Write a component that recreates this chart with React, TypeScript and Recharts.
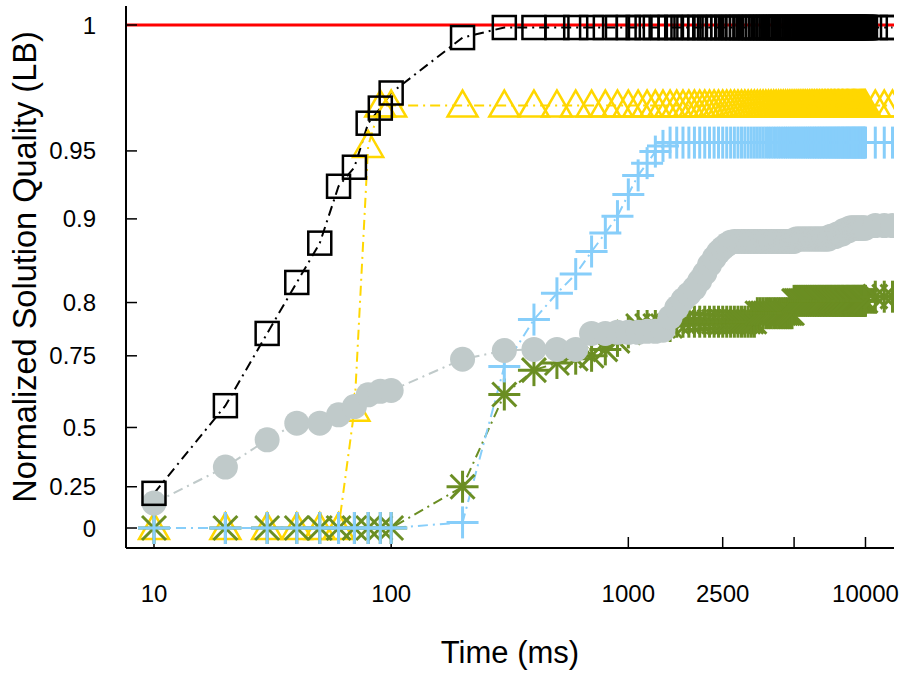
import React from 'react';
import { LineChart, Line, XAxis, YAxis, ReferenceLine, Label } from 'recharts';

// Time grid (ms) shared by all series
const times = [
  10, 20, 30, 40, 50, 60, 70, 80, 90, 100,
  200, 300, 400, 500, 600, 700, 800, 900, 1000,
  1100, 1200, 1300, 1400, 1500, 1600, 1700, 1800, 1900, 2000,
  2100, 2200, 2300, 2400, 2500, 2600, 2700, 2800, 2900, 3000,
  3100, 3200, 3300, 3400, 3500, 3600, 3700, 3800, 3900, 4000,
  4100, 4200, 4300, 4400, 4500, 4600, 4700, 4800, 4900, 5000,
  5100, 5200, 5300, 5400, 5500, 5600, 5700, 5800, 5900, 6000,
  6100, 6200, 6300, 6400, 6500, 6600, 6700, 6800, 6900, 7000,
  7100, 7200, 7300, 7400, 7500, 7600, 7700, 7800, 7900, 8000,
  8100, 8200, 8300, 8400, 8500, 8600, 8700, 8800, 8900, 9000,
  9100, 9200, 9300, 9400, 9500, 9600, 9700, 9800, 9900, 10000,
  11000, 12000, 13000,
];

const xTicks = [10, 100, 1000, 2500, 5000, 10000];
const xTickLabels = ['10', '100', '1000', '2500', '', '10000'];

// non-linear y axis: tick values and where they sit on the axis
const yTickValues = [0, 0.25, 0.5, 0.75, 0.8, 0.9, 0.95, 1];
const yTickLabels = ['0', '0.25', '0.5', '0.75', '0.8', '0.9', '0.95', '1'];
const yTickPositions = [20, 61.3, 120.6, 192.3, 245.6, 329.3, 397.3, 523.3];
const yAxisMax = 542.3;

const upperBound = 1;

// series values as runs of [value, count] over the time grid
type Run = [number, number];
const blackRuns: Run[] = [
  [0.21, 1], [0.576, 1], [0.771, 1], [0.824, 1], [0.871, 1], [0.924, 1], [0.938, 1],
  [0.961, 1], [0.967, 1], [0.973, 1], [0.995, 1], [0.999, 101],
];
const yellowRuns: Run[] = [
  [0, 6], [0.562, 1], [0.952, 1], [0.968, 104],
];
const blueRuns: Run[] = [
  [0, 10], [0.034, 1], [0.713, 1], [0.784, 1], [0.811, 1], [0.834, 1], [0.861, 1],
  [0.883, 1], [0.902, 1], [0.918, 1], [0.932, 1], [0.941, 1], [0.9495, 1], [0.952, 1],
  [0.9533, 89],
];
const greenRuns: Run[] = [
  [0, 10], [0.25, 1], [0.615, 1], [0.7, 1], [0.725, 1], [0.74, 1], [0.75, 1], [0.756, 1],
  [0.764, 1], [0.772, 1], [0.778, 5], [0.782, 19], [0.79, 15], [0.802, 51], [0.807, 3],
];
const grayRuns: Run[] = [
  [0.151, 1], [0.333, 1], [0.448, 1], [0.515, 2], [0.544, 1], [0.573, 1], [0.614, 1],
  [0.626, 1], [0.629, 1], [0.738, 1], [0.755, 1], [0.756, 3], [0.771, 2], [0.772, 3],
  [0.773, 2], [0.774, 1], [0.786, 1], [0.795, 1], [0.803, 1], [0.81, 1], [0.817, 1],
  [0.826, 1], [0.835, 1], [0.845, 1], [0.853, 1], [0.86, 1], [0.865, 1], [0.869, 1],
  [0.872, 1], [0.873, 23], [0.876, 20], [0.879, 5], [0.882, 5], [0.886, 5], [0.889, 15],
  [0.892, 3],
];

const expand = (runs: Run[]) => runs.flatMap(([v, n]) => Array(n).fill(v));

const toAxis = (v: number) => {
  for (let i = 0; i < yTickValues.length - 1; i++) {
    const a = yTickValues[i];
    const b = yTickValues[i + 1];
    if (v <= b || i === yTickValues.length - 2) {
      const f = (v - a) / (b - a);
      return yTickPositions[i] + f * (yTickPositions[i + 1] - yTickPositions[i]);
    }
  }
  return 0;
};

const black = expand(blackRuns);
const yellow = expand(yellowRuns);
const blue = expand(blueRuns);
const green = expand(greenRuns);
const gray = expand(grayRuns);

const data = times.map((t, i) => ({
  t,
  black: toAxis(black[i]),
  yellow: toAxis(yellow[i]),
  blue: toAxis(blue[i]),
  green: toAxis(green[i]),
  gray: toAxis(gray[i]),
}));

const FONT = '"Liberation Sans", Arial, Helvetica, sans-serif';
const DASH = '10 5 2 5';

const SquareDot = (p: any) => (
  <rect key={p.index} x={p.cx - 11.5} y={p.cy - 11.5} width={23} height={23} fill="none" stroke="#000" strokeWidth={2.5} />
);
const TriangleDot = (p: any) => (
  <path key={p.index} d={`M${p.cx - 15},${p.cy + 11} L${p.cx + 15},${p.cy + 11} L${p.cx},${p.cy - 15} Z`} fill="none" stroke="#ffd700" strokeWidth={2.5} />
);
const PlusDot = (p: any) => (
  <g key={p.index} stroke="#87cefa" strokeWidth={3}>
    <line x1={p.cx - 16} y1={p.cy} x2={p.cx + 16} y2={p.cy} />
    <line x1={p.cx} y1={p.cy - 16} x2={p.cx} y2={p.cy + 16} />
  </g>
);
const StarDot = (p: any) => (
  <g key={p.index} stroke="#6b8e23" strokeWidth={3}>
    <line x1={p.cx - 16} y1={p.cy} x2={p.cx + 16} y2={p.cy} />
    <line x1={p.cx} y1={p.cy - 16} x2={p.cx} y2={p.cy + 16} />
    <line x1={p.cx - 12} y1={p.cy - 12} x2={p.cx + 12} y2={p.cy + 12} />
    <line x1={p.cx - 12} y1={p.cy + 12} x2={p.cx + 12} y2={p.cy - 12} />
  </g>
);
const CircleDot = (p: any) => (
  <circle key={p.index} cx={p.cx} cy={p.cy} r={12.5} fill="#c0caca" stroke="none" />
);

const yFmt = (v: number) => {
  const i = yTickPositions.indexOf(v);
  return i >= 0 ? yTickLabels[i] : '';
};
const xFmt = (v: number) => {
  const i = xTicks.indexOf(v);
  return i >= 0 ? xTickLabels[i] : '';
};

const axisLine = { stroke: '#000', strokeWidth: 2 };
const tickLine = { stroke: '#000', strokeWidth: 1.5 };
const tickStyle = { fontSize: 24, fill: '#000', fontFamily: FONT };
const xDomain: [number, number] = [7.62, 13190];

export default function App() {
  return (
    <div style={{ position: 'absolute', left: 0, top: 0, background: '#fff' }}>
      <LineChart width={900} height={675} data={data} margin={{ top: 6, right: 6, bottom: 0, left: 0 }}>
        <XAxis
          xAxisId="b"
          dataKey="t"
          type="number"
          scale="log"
          domain={xDomain}
          allowDataOverflow
          ticks={xTicks}
          tickFormatter={xFmt}
          orientation="bottom"
          height={127}
          tickSize={-11}
          tickMargin={48}
          axisLine={axisLine}
          tickLine={tickLine}
          tick={tickStyle}
          interval={0}
        >
          <Label
            content={() => (
              <text x={510} y={663} textAnchor="middle" fontSize={31} fontFamily={FONT} fill="#000">
                Time (ms)
              </text>
            )}
          />
        </XAxis>
        <XAxis
          xAxisId="t"
          dataKey="t"
          type="number"
          scale="log"
          domain={xDomain}
          allowDataOverflow
          ticks={xTicks}
          tickFormatter={() => ''}
          orientation="top"
          height={0}
          tickSize={-11}
          axisLine={axisLine}
          tickLine={tickLine}
          interval={0}
        />
        <YAxis
          yAxisId="l"
          type="number"
          domain={[0, yAxisMax]}
          allowDataOverflow
          ticks={yTickPositions}
          tickFormatter={yFmt}
          orientation="left"
          width={126}
          tickSize={-11}
          tickMargin={41}
          axisLine={axisLine}
          tickLine={tickLine}
          tick={tickStyle}
          interval={0}
        >
          <Label
            content={() => (
              <text
                x={36}
                y={267}
                transform="rotate(-90 36 267)"
                textAnchor="middle"
                fontSize={32.5}
                fontFamily={FONT}
                fill="#000"
              >
                Normalized Solution Quality (LB)
              </text>
            )}
          />
        </YAxis>
        <YAxis
          yAxisId="r"
          type="number"
          domain={[0, yAxisMax]}
          allowDataOverflow
          ticks={yTickPositions}
          tickFormatter={() => ''}
          orientation="right"
          width={0}
          tickSize={-11}
          axisLine={axisLine}
          tickLine={tickLine}
          interval={0}
        />
        <ReferenceLine xAxisId="b" yAxisId="l" y={toAxis(upperBound)} stroke="#ff0000" strokeWidth={3} />
        <Line xAxisId="b" yAxisId="l" dataKey="yellow" stroke="#ffd700" strokeWidth={2} strokeDasharray={DASH} dot={TriangleDot} activeDot={false} isAnimationActive={false} />
        <Line xAxisId="b" yAxisId="l" dataKey="green" stroke="#6b8e23" strokeWidth={2} strokeDasharray={DASH} dot={StarDot} activeDot={false} isAnimationActive={false} />
        <Line xAxisId="b" yAxisId="l" dataKey="blue" stroke="#87cefa" strokeWidth={2} strokeDasharray={DASH} dot={PlusDot} activeDot={false} isAnimationActive={false} />
        <Line xAxisId="b" yAxisId="l" dataKey="gray" stroke="#c0caca" strokeWidth={2} strokeDasharray={DASH} dot={CircleDot} activeDot={false} isAnimationActive={false} />
        <Line xAxisId="b" yAxisId="l" dataKey="black" stroke="#000" strokeWidth={2} strokeDasharray={DASH} dot={SquareDot} activeDot={false} isAnimationActive={false} />
      </LineChart>
    </div>
  );
}
